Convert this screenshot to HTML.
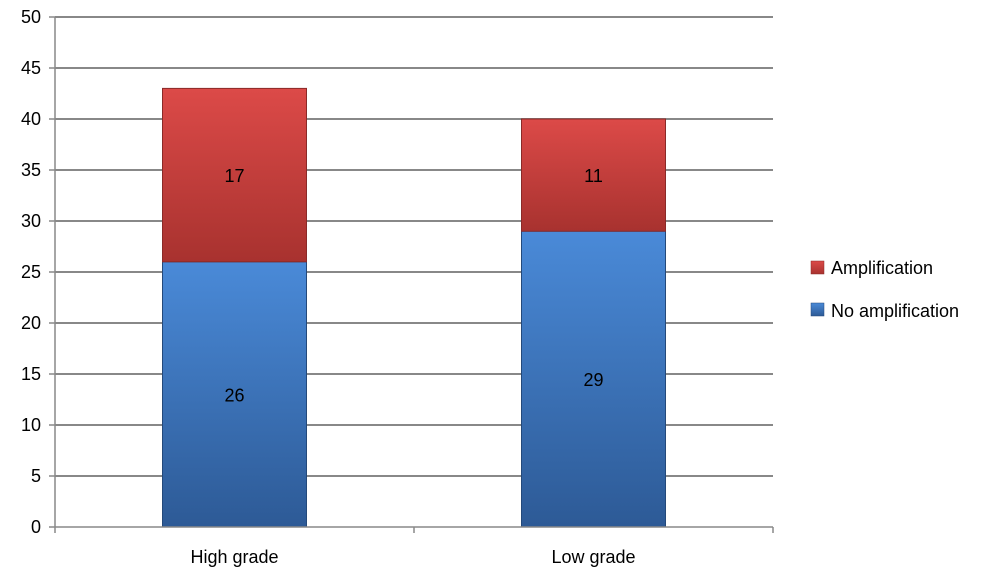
<!DOCTYPE html>
<html><head><meta charset="utf-8"><style>
html,body{margin:0;padding:0;background:#fff;}
svg{display:block;font-family:"Liberation Sans",sans-serif;}
</style></head><body>
<svg id="chart" width="1000" height="578">
<defs>
<linearGradient id="gRed" x1="0" y1="0" x2="0" y2="1"><stop offset="0" stop-color="#dc4a48"/><stop offset="1" stop-color="#a8322f"/></linearGradient>
<linearGradient id="gBlue" x1="0" y1="0" x2="0" y2="1"><stop offset="0" stop-color="#4a8ad8"/><stop offset="1" stop-color="#2d5a96"/></linearGradient>
</defs>
<g id="grid"></g><g id="bars"></g><g id="axes"></g>
<g>
<g><rect x="811" y="261" width="13" height="13" fill="url(#gRed)" stroke="#8a2a28" stroke-width="0.5"/><text x="831" y="274" font-size="18" fill="#000">Amplification</text></g>
<g><rect x="811" y="303" width="13" height="13" fill="url(#gBlue)" stroke="#24497a" stroke-width="0.5"/><text x="831" y="317" font-size="18" fill="#000">No amplification</text></g>
</g>
</svg>
<script>
const categories=["High grade","Low grade"];
const noAmp=[26,29];
const amp=[17,11];
const yTicks=[0,5,10,15,20,25,30,35,40,45,50];
const NS="http://www.w3.org/2000/svg";
const x0=55,x1=773,yB=527,yT=17,yMax=50;
const y=v=>yB-(yB-yT)*v/yMax;
const band=(x1-x0)/categories.length;
const bw=144;
function mk(tag,attrs,parent){const e=document.createElementNS(NS,tag);for(const k in attrs)e.setAttribute(k,attrs[k]);parent.appendChild(e);return e;}
const grid=document.getElementById('grid'),bars=document.getElementById('bars'),axes=document.getElementById('axes');
yTicks.forEach(t=>{
 if(t>0){const l=mk('line',{x1:x0,x2:x1,y1:y(t),y2:y(t),stroke:'#888','stroke-width':2},grid);
 
 }
 const tk=mk('line',{x1:x0-6,x2:x0,y1:y(t),y2:y(t),stroke:'#888','stroke-width':1.5},axes);
 
 
 const tx=mk('text',{x:x0-14,y:y(t)+6,'text-anchor':'end','font-size':18,fill:'#000'},axes);
 tx.textContent=t;
 
 
});
const ya=mk('line',{x1:x0,x2:x0,y1:yT,y2:yB,stroke:'#888','stroke-width':1.5},axes);


const xa=mk('line',{x1:x0,x2:x1,y1:yB,y2:yB,stroke:'#888','stroke-width':1.5},axes);


for(let i=0;i<=categories.length;i++){
 const xt=mk('line',{x1:x0+band*i,x2:x0+band*i,y1:yB,y2:yB+6,stroke:'#888','stroke-width':1.5},axes);
 
 
}
categories.forEach((c,i)=>{
 const cx=x0+band*(i+0.5),bx=cx-bw/2;
 const b1=mk('rect',{x:bx,y:y(noAmp[i]),width:bw,height:y(0)-y(noAmp[i]),fill:'url(#gBlue)',stroke:'#24497a','stroke-width':1},bars);
 
 
 const top=noAmp[i]+amp[i];
 const b2=mk('rect',{x:bx,y:y(top),width:bw,height:y(noAmp[i])-y(top),fill:'url(#gRed)',stroke:'#8a2a28','stroke-width':1},bars);
 
 
 const l1=mk('text',{x:cx,y:(y(0)+y(noAmp[i]))/2+7,'text-anchor':'middle','font-size':18,fill:'#000'},bars);
 l1.textContent=noAmp[i];
 
 
 const l2=mk('text',{x:cx,y:(y(noAmp[i])+y(top))/2+7,'text-anchor':'middle','font-size':18,fill:'#000'},bars);
 l2.textContent=amp[i];
 
 
 const cl=mk('text',{x:cx,y:563,'text-anchor':'middle','font-size':18,fill:'#000'},axes);
 cl.textContent=c;
 
 
});
</script>
</body></html>
